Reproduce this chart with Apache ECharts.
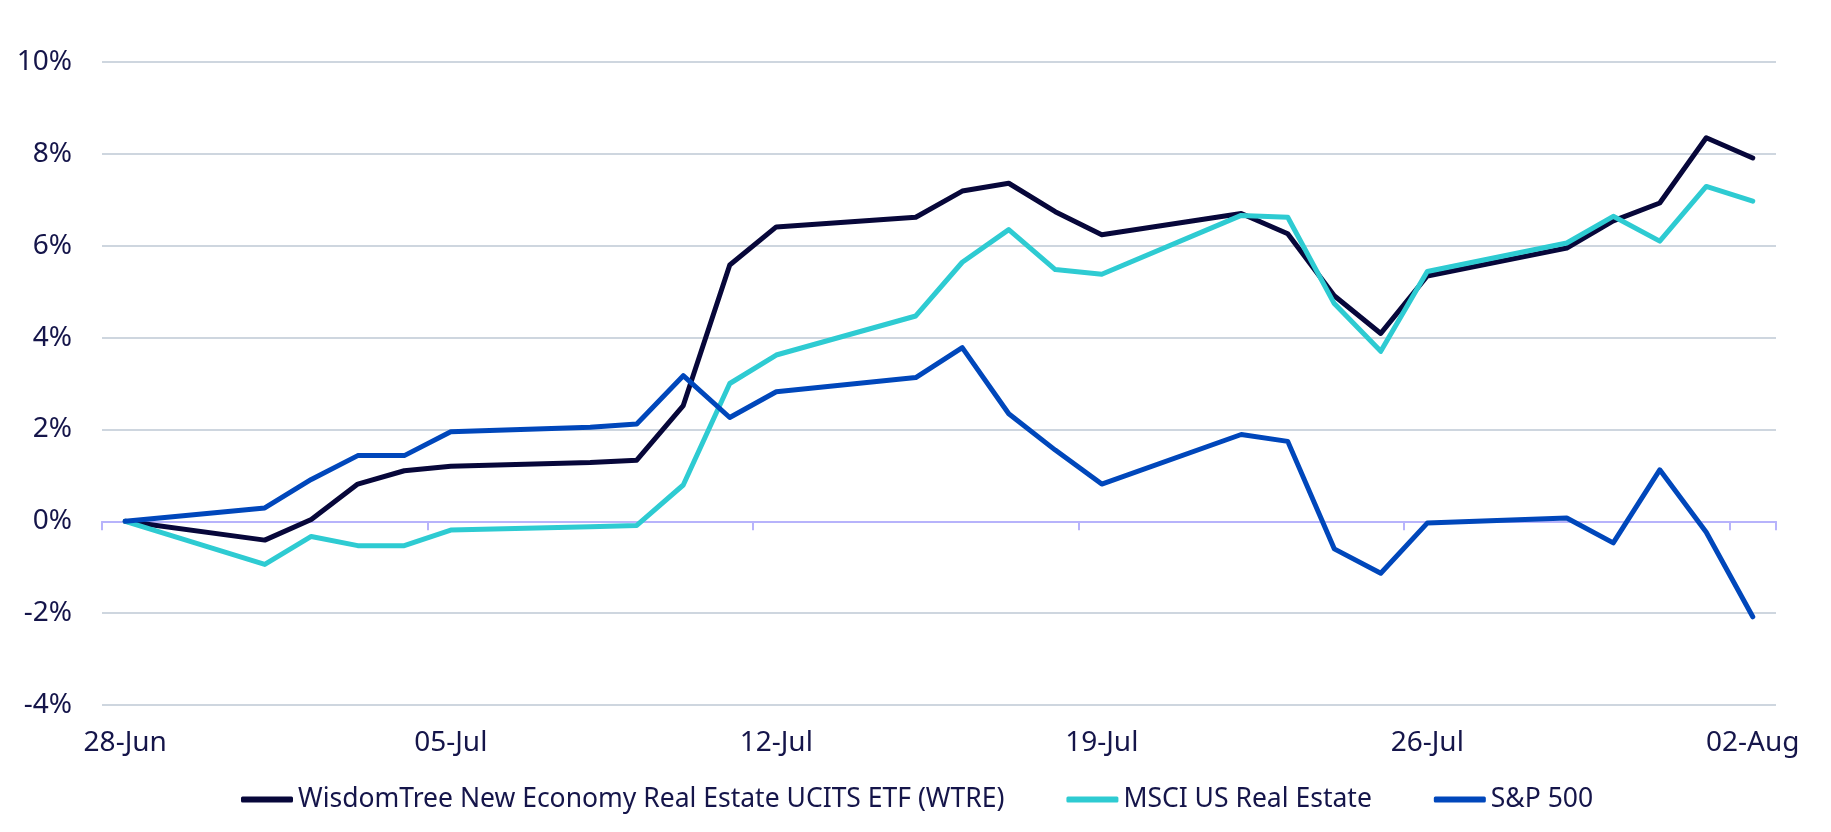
<!DOCTYPE html>
<html>
<head>
	<meta charset="utf-8">
	<title>WTRE vs MSCI US Real Estate vs S&amp;P 500</title>
	<script src="https://cdn.jsdelivr.net/npm/echarts@6/dist/echarts.min.js"></script>
	<style type="text/css">
		html, body { margin: 0; padding: 0; background: #fff; }
		#chart { width: 1831px; height: 832px; }
	</style>
</head>
<body>
<div id="chart"></div>
<script type="text/javascript">

	// trading days
	var dates = [
		'2024-06-28', '2024-07-01', '2024-07-02', '2024-07-03', '2024-07-04', '2024-07-05',
		'2024-07-08', '2024-07-09', '2024-07-10', '2024-07-11', '2024-07-12',
		'2024-07-15', '2024-07-16', '2024-07-17', '2024-07-18', '2024-07-19',
		'2024-07-22', '2024-07-23', '2024-07-24', '2024-07-25', '2024-07-26',
		'2024-07-29', '2024-07-30', '2024-07-31', '2024-08-01', '2024-08-02'
	];

	// cumulative return, %
	var wtre = [0, -0.41, 0.04, 0.81, 1.10, 1.20, 1.28, 1.33, 2.52, 5.58, 6.41,
		6.62, 7.19, 7.36, 6.74, 6.24, 6.70, 6.26, 4.91, 4.09, 5.34,
		5.95, 6.54, 6.93, 8.35, 7.91];
	var msci = [0, -0.94, -0.33, -0.53, -0.53, -0.19, -0.12, -0.09, 0.79, 3.00, 3.62,
		4.47, 5.64, 6.35, 5.48, 5.38, 6.66, 6.62, 4.74, 3.70, 5.44,
		6.06, 6.64, 6.10, 7.29, 6.97];
	var spx = [0, 0.29, 0.91, 1.43, 1.43, 1.95, 2.05, 2.12, 3.17, 2.26, 2.82,
		3.13, 3.78, 2.34, 1.55, 0.81, 1.89, 1.74, -0.60, -1.13, -0.04,
		0.07, -0.47, 1.12, -0.24, -2.08];

	var seriesNames = ['WisdomTree New Economy Real Estate UCITS ETF (WTRE)', 'MSCI US Real Estate', 'S&P 500'];
	var seriesColors = ['#07073a', '#2ecbd2', '#0047bb'];
	var monthNames = ['Jan', 'Feb', 'Mar', 'Apr', 'May', 'Jun', 'Jul', 'Aug', 'Sep', 'Oct', 'Nov', 'Dec'];

	var textColor = '#15154a';
	var fontFamily = '"Noto Sans", sans-serif';

	// every calendar day between first and last date, weekends included
	var days = [];
	var t = new Date(dates[0] + 'T00:00:00Z');
	var end = new Date(dates[dates.length - 1] + 'T00:00:00Z');
	while (t <= end) {
		days.push(t.toISOString().slice(0, 10));
		t = new Date(t.getTime() + 86400000);
	}

	function onDays(values) {
		return days.map(function(d) {
			var i = dates.indexOf(d);
			return i < 0 ? null : values[i];
		});
	}

	function dayLabel(v) {
		var d = new Date(v + 'T00:00:00Z');
		var dd = d.getUTCDate();
		return (dd < 10 ? '0' + dd : dd) + '-' + monthNames[d.getUTCMonth()];
	}

	function lineSeries(name, values, color) {
		return {
			name: name,
			type: 'line',
			xAxisIndex: 0,
			data: onDays(values),
			connectNulls: true,
			symbol: 'none',
			smooth: false,
			lineStyle: { color: color, width: 5, cap: 'round', join: 'round' },
			itemStyle: { color: color }
		};
	}

	var myChart = echarts.init(document.getElementById('chart'));
	var option = {
		animation: false,
		grid: { left: 102, right: 55, top: 62, bottom: 127 },
		legend: {
			left: 236,
			bottom: 14,
			icon: 'roundRect',
			itemWidth: 52,
			itemHeight: 6,
			itemGap: 62,
			textStyle: { color: textColor, fontSize: 26.5, fontFamily: fontFamily },
			data: seriesNames
		},
		xAxis: [
			{
				// labels along the bottom
				type: 'category',
				data: days,
				boundaryGap: true,
				position: 'bottom',
				axisLine: { show: false, onZero: false },
				axisTick: { show: false },
				splitLine: { show: false },
				axisLabel: {
					interval: 6,
					margin: 24,
					color: textColor,
					fontSize: 28,
					fontFamily: fontFamily,
					formatter: dayLabel
				}
			},
			{
				// zero line with weekly ticks
				type: 'category',
				data: days,
				boundaryGap: true,
				position: 'bottom',
				axisLine: { show: true, onZero: true, lineStyle: { color: '#b7b3fb', width: 2 } },
				axisTick: { show: true, interval: 6, length: 9, lineStyle: { color: '#b7b3fb', width: 2 } },
				axisLabel: { show: false },
				splitLine: { show: false }
			}
		],
		yAxis: {
			type: 'value',
			min: -4,
			max: 10,
			interval: 2,
			axisLine: { show: false },
			axisTick: { show: false },
			axisLabel: {
				margin: 30,
				color: textColor,
				fontSize: 28,
				fontFamily: fontFamily,
				formatter: '{value}%'
			},
			splitLine: { lineStyle: { color: '#ced6df', width: 2 } }
		},
		series: [
			lineSeries(seriesNames[0], wtre, seriesColors[0]),
			lineSeries(seriesNames[1], msci, seriesColors[1]),
			lineSeries(seriesNames[2], spx, seriesColors[2])
		]
	};
	myChart.setOption(option);

</script>
</body>
</html>
